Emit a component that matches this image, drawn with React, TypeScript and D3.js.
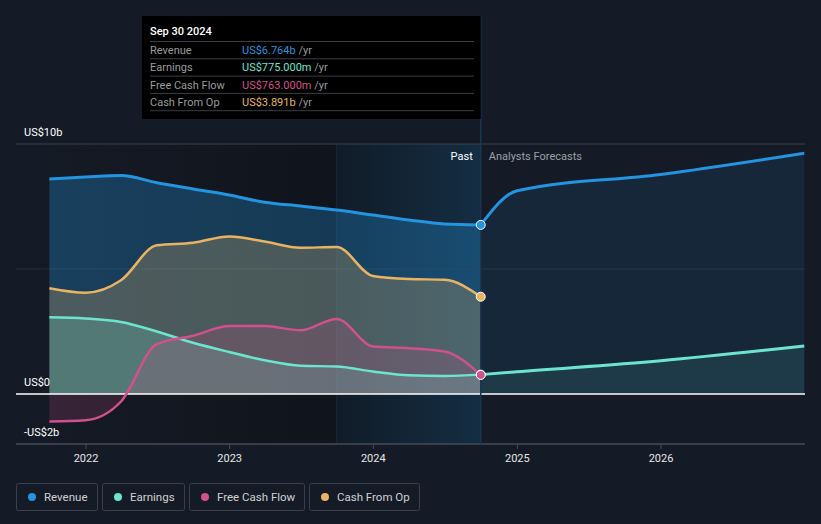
import React from "react";
import * as d3 from "d3";

// quarterly history (trailing twelve months, US$ billions)
const pastDates = [
  "2021-09-30", "2021-12-31", "2022-03-31", "2022-06-30", "2022-09-30",
  "2022-12-31", "2023-03-31", "2023-06-30", "2023-09-30", "2023-12-31",
  "2024-03-31", "2024-06-30", "2024-09-30",
];
const revenue = [8.6, 8.68, 8.74, 8.45, 8.2, 7.96, 7.67, 7.52, 7.36, 7.16, 6.96, 6.8, 6.764];
const earnings = [3.07, 3.02, 2.88, 2.5, 2.05, 1.68, 1.35, 1.13, 1.1, 0.9, 0.75, 0.72, 0.775];
const freeCashFlow = [-1.1, -1.05, -0.3, 2.0, 2.33, 2.72, 2.72, 2.55, 3.0, 1.9, 1.83, 1.7, 0.763];
const cashFromOp = [4.23, 4.05, 4.55, 5.95, 6.05, 6.3, 6.1, 5.85, 5.88, 4.72, 4.6, 4.57, 3.891];

// analyst forecasts
const forecastDates = ["2024-09-30", "2024-12-31", "2025-12-31", "2026-12-31"];
const revenueForecast = [6.764, 8.13, 8.78, 9.63];
const earningsForecast = [0.775, 0.89, 1.33, 1.92];

const yTicks = [
  { v: 10, label: "US$10b" },
  { v: 0, label: "US$0" },
  { v: -2, label: "-US$2b" },
];
const xTickYears = [2022, 2023, 2024, 2025, 2026];

const tooltipRows = [
  { name: "Revenue", value: "US$6.764b", color: "#2394df" },
  { name: "Earnings", value: "US$775.000m", color: "#6ce5d0" },
  { name: "Free Cash Flow", value: "US$763.000m", color: "#d1508d" },
  { name: "Cash From Op", value: "US$3.891b", color: "#e9b363" },
];

const COLORS = {
  revenue: "#2394df",
  earnings: "#6ce5d0",
  fcf: "#d1508d",
  cfo: "#e9b363",
};

const W = 821;
const H = 524;
const FONT = "Roboto, 'Noto Sans', sans-serif";

type Pt = { d: Date; v: number };
const parse = d3.timeParse("%Y-%m-%d");
const toPts = (dates: string[], vals: number[]): Pt[] =>
  dates.map((s, i) => ({ d: parse(s) as Date, v: vals[i] }));

const App: React.FC = () => {
  const x = d3
    .scaleTime()
    .domain([new Date(2022, 0, 1), new Date(2026, 0, 1)])
    .range([86, 661]);
  const y = d3.scaleLinear().domain([-2, 10]).range([444, 144]);

  const left = 16;
  const right = 805;
  const nowX = x(parse("2024-09-30") as Date);
  const bandX = x(parse("2023-09-30") as Date);

  const line = d3
    .line<Pt>()
    .x(p => x(p.d))
    .y(p => y(p.v))
    .curve(d3.curveMonotoneX);
  const area = d3
    .area<Pt>()
    .x(p => x(p.d))
    .y0(y(0))
    .y1(p => y(p.v))
    .curve(d3.curveMonotoneX);

  const rev = toPts(pastDates, revenue);
  const ear = toPts(pastDates, earnings);
  const fcf = toPts(pastDates, freeCashFlow);
  const cfo = toPts(pastDates, cashFromOp);
  const revF = toPts(forecastDates, revenueForecast);
  const earF = toPts(forecastDates, earningsForecast);

  const legend = [
    { name: "Revenue", color: COLORS.revenue, x: 16, w: 81 },
    { name: "Earnings", color: COLORS.earnings, x: 102, w: 82 },
    { name: "Free Cash Flow", color: COLORS.fcf, x: 189, w: 115 },
    { name: "Cash From Op", color: COLORS.cfo, x: 309, w: 110 },
  ];

  const last = (a: Pt[]) => a[a.length - 1];

  return (
    <svg
      width={W}
      height={H}
      style={{ position: "absolute", left: 0, top: 0, display: "block" }}
      fontFamily={FONT}
    >
      <defs>
        <linearGradient id="pastBg" x1="0" x2="1" y1="0" y2="0">
          <stop offset="0%" stopColor="#151b26" />
          <stop offset="100%" stopColor="#10141c" />
        </linearGradient>
        <linearGradient id="bandBg" x1="0" x2="1" y1="0" y2="0">
          <stop offset="0%" stopColor="#2394df" stopOpacity={0.06} />
          <stop offset="100%" stopColor="#2394df" stopOpacity={0.2} />
        </linearGradient>
      </defs>

      <rect x={0} y={0} width={W} height={H} fill="#151b26" />

      {/* past background + last-year band */}
      <rect x={left} y={y(10)} width={bandX - left} height={y(-2) - y(10)} fill="url(#pastBg)" />
      <rect x={bandX} y={y(10)} width={nowX - bandX} height={y(-2) - y(10)} fill="#10141c" />
      <rect x={bandX} y={y(10)} width={nowX - bandX} height={y(-2) - y(10)} fill="url(#bandBg)" />
      <line x1={bandX} x2={bandX} y1={y(10)} y2={y(-2)} stroke="#17283a" strokeWidth={1} />

      {/* gridlines */}
      <line x1={left} x2={right} y1={y(10)} y2={y(10)} stroke="#3d424d" />
      <line x1={left} x2={right} y1={y(5)} y2={y(5)} stroke="#262c38" />

      {/* forecast areas */}
      <path d={area(revF) || ""} fill={COLORS.revenue} fillOpacity={0.1} />
      <path d={area(earF) || ""} fill={COLORS.earnings} fillOpacity={0.1} />

      {/* past areas */}
      <path d={area(rev) || ""} fill={COLORS.revenue} fillOpacity={0.3} />
      <path d={area(cfo) || ""} fill={COLORS.cfo} fillOpacity={0.25} />
      <path d={area(ear) || ""} fill={COLORS.earnings} fillOpacity={0.22} />
      <path d={area(fcf) || ""} fill={COLORS.fcf} fillOpacity={0.18} />

      {/* zero line and axis */}
      <line x1={left} x2={right} y1={y(0)} y2={y(0)} stroke="#ffffff" strokeWidth={1.5} />
      <line x1={left} x2={right} y1={y(-2)} y2={y(-2)} stroke="#454b57" strokeWidth={1.5} />
      {xTickYears.map(yr => {
        const tx = x(new Date(yr, 0, 1));
        return (
          <g key={yr}>
            <line x1={tx} x2={tx} y1={y(-2)} y2={y(-2) + 5} stroke="#454b57" />
            <text x={tx} y={462} textAnchor="middle" fontSize={11} fill="#e6e6e6">
              {yr}
            </text>
          </g>
        );
      })}

      {yTicks.map(t => (
        <text key={t.label} x={24} y={y(t.v) - 8} fontSize={11} fill="#ffffff">
          {t.label}
        </text>
      ))}

      {/* lines */}
      <path d={line(revF) || ""} fill="none" stroke={COLORS.revenue} strokeWidth={3} />
      <path d={line(earF) || ""} fill="none" stroke={COLORS.earnings} strokeWidth={3} />
      <path d={line(rev) || ""} fill="none" stroke={COLORS.revenue} strokeWidth={3} />
      <path d={line(cfo) || ""} fill="none" stroke={COLORS.cfo} strokeWidth={2.5} />
      <path d={line(ear) || ""} fill="none" stroke={COLORS.earnings} strokeWidth={2.5} />
      <path d={line(fcf) || ""} fill="none" stroke={COLORS.fcf} strokeWidth={2.5} />

      {/* hover line */}
      <line x1={nowX} x2={nowX} y1={16} y2={y(-2)} stroke="#1a3550" strokeWidth={1.5} />

      {/* end markers */}
      {[
        { p: last(rev), c: COLORS.revenue },
        { p: last(cfo), c: COLORS.cfo },
        { p: last(ear), c: COLORS.earnings },
        { p: last(fcf), c: COLORS.fcf },
      ].map((m, i) => (
        <circle key={i} cx={x(m.p.d)} cy={y(m.p.v)} r={4.5} fill={m.c} stroke="#ffffff" strokeWidth={1} />
      ))}

      <text x={nowX - 8} y={160} textAnchor="end" fontSize={11} fill="#ffffff">
        Past
      </text>
      <text x={nowX + 8} y={160} fontSize={11} fill="#9aa0a8">
        Analysts Forecasts
      </text>

      {/* tooltip */}
      <g>
        <rect x={142} y={16} width={nowX - 142} height={103} fill="#000000" />
        <text x={150} y={35} fontSize={11} fill="#ffffff" fontWeight={500}>
          Sep 30 2024
        </text>
        {tooltipRows.map((r, i) => {
          const top = 41.5 + i * 17.3;
          return (
            <g key={r.name}>
              <line x1={150} x2={474} y1={top} y2={top} stroke="#3a3d44" />
              <text x={150} y={top + 12.5} fontSize={11} fill="#9a9a9a">
                {r.name}
              </text>
              <text x={242} y={top + 12.5} fontSize={11}>
                <tspan fill={r.color}>{r.value}</tspan>
                <tspan fill="#9a9a9a"> /yr</tspan>
              </text>
            </g>
          );
        })}
        <line x1={150} x2={474} y1={110.7} y2={110.7} stroke="#3a3d44" />
      </g>

      {/* legend */}
      {legend.map(l => (
        <g key={l.name}>
          <rect x={l.x + 0.5} y={483.5} width={l.w} height={27} rx={2} fill="none" stroke="#3a3f4a" />
          <circle cx={l.x + 16} cy={497} r={4} fill={l.color} />
          <text x={l.x + 28} y={501} fontSize={11.5} fill="#d0d0d0">
            {l.name}
          </text>
        </g>
      ))}
    </svg>
  );
};

export default App;
